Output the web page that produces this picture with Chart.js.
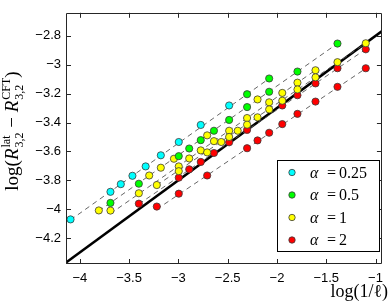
<!DOCTYPE html>
<html>
<head>
<meta charset="utf-8">
<script src="https://cdn.jsdelivr.net/npm/chart.js@4.4.1/dist/chart.umd.min.js"></script>
<style>
  html, body { margin: 0; padding: 0; background: #fff; }
</style>
</head>
<body>
<canvas id="chart" width="390" height="308"></canvas>
<script>
// 軸の目盛り
const xTicks = [-4, -3.5, -3, -2.5, -2, -1.5, -1];
const yTicks = [-4.2, -4, -3.8, -3.6, -3.4, -3.2, -3, -2.8];

// 凡例
const alphaLabels = ['0.25', '0.5', '1', '2'];
const alphaColors = ['#00ffff', '#00ff00', '#ffff00', '#ff0000'];

// α = 0.25
const cyanX = [-4.094, -3.689, -3.584, -3.466, -3.332, -3.178, -2.996, -2.773, -2.485];
const cyanY = [-4.071, -3.880, -3.827, -3.769, -3.704, -3.627, -3.535, -3.417, -3.282];

// α = 0.5
const greenX = [-3.689, -3.401, -2.996, -2.890, -2.773, -2.639, -2.485, -2.303, -2.303, -2.079, -2.079, -1.792, -1.386];
const greenY = [-3.957, -3.824, -3.633, -3.580, -3.522, -3.457, -3.382, -3.204, -3.293, -3.095, -3.187, -3.047, -2.853];

// α = 1
const yellowX = [-3.807, -3.689, -3.401, -3.296, -3.219, -3.178, -3.045, -2.996, -2.996, -2.890, -2.773,
  -2.708, -2.708, -2.639, -2.565, -2.485, -2.485, -2.398, -2.303, -2.303, -2.197, -2.197, -2.079, -2.079,
  -1.946, -1.946, -1.792, -1.792, -1.609, -1.609, -1.386, -1.099];
const yellowY = [-4.009, -4.010, -3.890, -3.767, -3.833, -3.713, -3.651, -3.704, -3.737, -3.649, -3.593,
  -3.607, -3.489, -3.529, -3.535, -3.457, -3.500, -3.457, -3.369, -3.415, -3.240, -3.364, -3.260, -3.309,
  -3.195, -3.249, -3.124, -3.171, -3.038, -3.087, -2.982, -2.851];

// α = 2
const redX = [-3.401, -3.219, -2.996, -2.996, -2.890, -2.773, -2.708, -2.639, -2.485, -2.303, -2.303, -2.197,
  -2.079, -1.946, -1.946, -1.792, -1.792, -1.609, -1.609, -1.386, -1.386, -1.099, -1.099];
const redY = [-3.962, -3.982, -3.782, -3.893, -3.724, -3.673, -3.767, -3.611, -3.537, -3.451, -3.578, -3.524,
  -3.471, -3.282, -3.411, -3.211, -3.340, -3.129, -3.255, -3.024, -3.153, -2.893, -3.024];

// 破線のフィット直線 y = a x + b
const fitSlope = [0.486, 0.479, 0.478, 0.464, 0.466, 0.460];
const fitIntercept = [-2.085, -2.189, -2.268, -2.341, -2.380, -2.520];
const fitFrom = [-4.094, -3.807, -3.689, -3.219, -3.401, -3.219];
const fitTo = [-2.079, -1.386, -1.609, -1.099, -1.099, -1.099];

// 太い実線 y = x/2 + c
const refSlope = 0.5;
const refIntercept = -2.3;
const refFrom = -4.2;
const refTo = -0.9;

const pointSets = [[cyanX, cyanY], [greenX, greenY], [yellowX, yellowY], [redX, redY]];

function toPoints(xs, ys) {
  return xs.map((x, i) => ({ x, y: ys[i] }));
}
function lineEnds(a, b, x0, x1) {
  return [{ x: x0, y: a * x0 + b }, { x: x1, y: a * x1 + b }];
}
function fmt(v) {
  return (v < 0 ? '\u2212' : '') + Math.abs(v);
}

const datasets = [];
pointSets.forEach(([xs, ys], i) => {
  datasets.push({
    type: 'scatter',
    data: toPoints(xs, ys),
    backgroundColor: alphaColors[i],
    borderColor: '#3a3a3a',
    borderWidth: 0.8,
    pointRadius: 3.6,
    order: 0,
  });
});
fitSlope.forEach((a, i) => {
  datasets.push({
    type: 'line',
    data: lineEnds(a, fitIntercept[i], fitFrom[i], fitTo[i]),
    borderColor: '#555',
    borderWidth: 0.9,
    borderDash: [5, 4],
    pointRadius: 0,
    fill: false,
    order: 1,
  });
});
datasets.push({
  type: 'line',
  data: lineEnds(refSlope, refIntercept, refFrom, refTo),
  borderColor: '#000',
  borderWidth: 2.5,
  pointRadius: 0,
  fill: false,
  order: 2,
});

// 枠・内向き目盛り・凡例・軸ラベル
const decor = {
  id: 'decor',
  afterDraw(chart) {
    const ctx = chart.ctx;
    const { left, right, top, bottom } = chart.chartArea;
    const xs = chart.scales.x, ys = chart.scales.y;
    ctx.save();
    ctx.strokeStyle = '#262626';
    ctx.lineWidth = 1;
    ctx.beginPath();
    ctx.rect(Math.round(left) + 0.5, Math.round(top) + 0.5, Math.round(right - left) - 1, Math.round(bottom - top) - 1);
    xTicks.forEach((v) => {
      const p = Math.round(xs.getPixelForValue(v)) + 0.5;
      ctx.moveTo(p, bottom); ctx.lineTo(p, bottom - 5);
      ctx.moveTo(p, top); ctx.lineTo(p, top + 5);
    });
    yTicks.forEach((v) => {
      const p = Math.round(ys.getPixelForValue(v)) + 0.5;
      ctx.moveTo(left, p); ctx.lineTo(left + 5, p);
      ctx.moveTo(right, p); ctx.lineTo(right - 5, p);
    });
    ctx.stroke();

    // 凡例
    const lx = 277.5, ly = 160.5, lw = 102, lh = 91;
    ctx.fillStyle = '#fff';
    ctx.fillRect(lx, ly, lw, lh);
    ctx.strokeStyle = '#000';
    ctx.strokeRect(lx, ly, lw, lh);
    const serif = '"Liberation Serif", "DejaVu Serif", serif';
    alphaLabels.forEach((lab, i) => {
      const cy = 172.5 + i * 22.5;
      ctx.beginPath();
      ctx.arc(292, cy, 3.2, 0, Math.PI * 2);
      ctx.fillStyle = alphaColors[i];
      ctx.fill();
      ctx.strokeStyle = '#3a3a3a';
      ctx.lineWidth = 0.8;
      ctx.stroke();
      ctx.fillStyle = '#000';
      ctx.textBaseline = 'alphabetic';
      ctx.textAlign = 'left';
      ctx.font = 'italic 16px ' + serif;
      ctx.fillText('\u03b1', 310, cy + 5);
      ctx.font = '16px ' + serif;
      ctx.textAlign = 'center';
      ctx.fillText('=', 331.5, cy + 5);
      ctx.textAlign = 'left';
      ctx.fillText(lab, 339, cy + 5);
    });

    // x軸ラベル
    ctx.fillStyle = '#000';
    ctx.textAlign = 'right';
    ctx.font = '18px ' + serif;
    ctx.fillText('log(1/\u2113)', 388, 297);

    // y軸ラベル
    const big = '19px ' + serif, bigIt = 'italic 19px ' + serif, small = '12px ' + serif;
    const parts = [
      { t: 'log(', f: big },
      { t: 'R', f: bigIt },
      { sup: 'lat', sub: '3,2' },
      { t: ' \u2212 ', f: big },
      { t: 'R', f: bigIt },
      { sup: 'CFT', sub: '3,2' },
      { t: ')', f: big },
    ];
    let total = 0;
    parts.forEach((p) => {
      if (p.t) { ctx.font = p.f; p.w = ctx.measureText(p.t).width; }
      else { ctx.font = small; p.w = Math.max(ctx.measureText(p.sup).width, ctx.measureText(p.sub).width) + 1; }
      total += p.w;
    });
    ctx.translate(18, 131);
    ctx.rotate(-Math.PI / 2);
    ctx.textAlign = 'left';
    let x = -total / 2;
    parts.forEach((p) => {
      if (p.t) { ctx.font = p.f; ctx.fillText(p.t, x, 0); }
      else {
        ctx.font = small;
        ctx.fillText(p.sup, x + 1, -8);
        ctx.fillText(p.sub, x + 1, 5);
      }
      x += p.w;
    });
    ctx.restore();
  },
};

const tickFont = { family: '"Liberation Sans", Arial, sans-serif', size: 13 };

new Chart(document.getElementById('chart').getContext('2d'), {
  data: { datasets },
  options: {
    responsive: false,
    animation: false,
    events: [],
    layout: { padding: { top: 2, right: 3, left: 0, bottom: 0 }, autoPadding: false },
    plugins: { legend: { display: false }, tooltip: { enabled: false } },
    scales: {
      x: {
        type: 'linear',
        min: -4.14,
        max: -0.935,
        grid: { display: false, drawTicks: false },
        border: { display: false },
        ticks: { color: '#000', font: tickFont, padding: 7, autoSkip: false, maxRotation: 0, callback: fmt },
        afterBuildTicks: (s) => { s.ticks = xTicks.map((v) => ({ value: v })); },
        afterFit: (s) => { s.height = 44; },
      },
      y: {
        type: 'linear',
        min: -4.38,
        max: -2.64,
        grid: { display: false, drawTicks: false },
        border: { display: false },
        ticks: { color: '#000', font: tickFont, padding: 5, autoSkip: false, callback: fmt },
        afterBuildTicks: (s) => { s.ticks = yTicks.map((v) => ({ value: v })); },
        afterFit: (s) => { s.width = 66; },
      },
    },
  },
  plugins: [decor],
});
</script>
</body>
</html>
